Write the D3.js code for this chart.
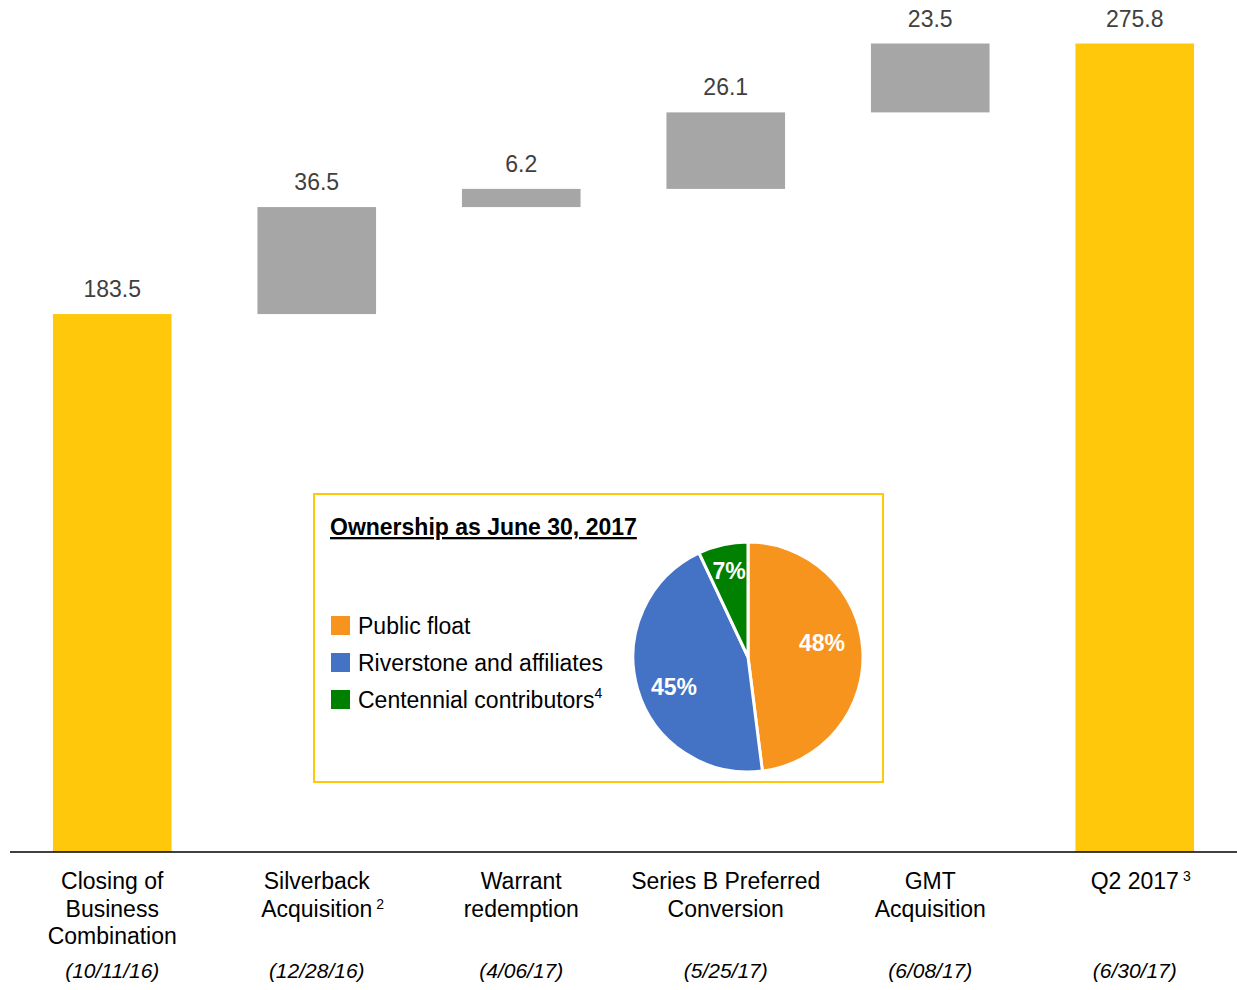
<!DOCTYPE html>
<html>
<head>
<meta charset="utf-8">
<script src="https://cdn.jsdelivr.net/npm/d3@7"></script>
<style>
  body { margin: 0; background: #fff; }
  svg { display: block; font-family: "Liberation Sans", Arial, sans-serif; }
</style>
</head>
<body>
<svg id="chart" width="1237" height="990"></svg>
<script>
// waterfall data
var categories = ["Closing of|Business|Combination", "Silverback|Acquisition", "Warrant|redemption",
  "Series B Preferred|Conversion", "GMT|Acquisition", "Q2 2017"];
var footnotes = ["", "2", "", "", "", "3"];
var dates = ["(10/11/16)", "(12/28/16)", "(4/06/17)", "(5/25/17)", "(6/08/17)", "(6/30/17)"];
var values = [183.5, 36.5, 6.2, 26.1, 23.5, 275.8];
var isTotal = [true, false, false, false, false, true];

// pie data
var pieLabels = ["Public float", "Riverstone and affiliates", "Centennial contributors"];
var pieValues = [48, 45, 7];
var pieColors = ["#F7941D", "#4472C4", "#008000"];

var svg = d3.select("#chart");
var baseY = 852;
var fs = 23;

var x = d3.scaleBand().domain(d3.range(categories.length)).range([10, 1237]).paddingInner(0.42).paddingOuter(0.21);
var y = d3.scaleLinear().domain([0, 275.8]).range([baseY, 43.5]);

// compute waterfall steps
var running = 0;
var bars = values.map(function(v, i) {
  var b;
  if (isTotal[i]) { b = {lo: 0, hi: v}; running = v; }
  else { b = {lo: running, hi: running + v}; running += v; }
  b.i = i; b.v = v;
  return b;
});

svg.selectAll("rect.bar").data(bars).enter().append("rect")
  .attr("class", "bar")
  .attr("x", function(d) { return x(d.i); })
  .attr("width", x.bandwidth())
  .attr("y", function(d) { return y(d.hi); })
  .attr("height", function(d) { return y(d.lo) - y(d.hi); })
  .attr("fill", function(d) { return isTotal[d.i] ? "#FFC80A" : "#A6A6A6"; });

svg.selectAll("text.val").data(bars).enter().append("text")
  .attr("class", "val")
  .attr("x", function(d) { return x(d.i) + x.bandwidth() / 2; })
  .attr("y", function(d) { return y(d.hi) - 17; })
  .attr("text-anchor", "middle")
  .attr("font-size", fs)
  .attr("fill", "#404040")
  .text(function(d) { return d.v.toFixed(1); });

// axis line
svg.append("line").attr("x1", 10).attr("x2", 1237).attr("y1", baseY).attr("y2", baseY)
  .attr("stroke", "#000").attr("stroke-width", 1.5);

// category labels
categories.forEach(function(c, i) {
  var cx = x(i) + x.bandwidth() / 2;
  var lines = c.split("|");
  var t = svg.append("text").attr("text-anchor", "middle").attr("font-size", fs).attr("fill", "#000");
  lines.forEach(function(l, j) {
    t.append("tspan").attr("x", cx).attr("y", 889 + j * 27.5).text(l);
  });
  if (footnotes[i]) {
    var last = t.selectAll("tspan").filter(function(d, k) { return k === lines.length - 1; });
    var w = last.node().getComputedTextLength();
    svg.append("text").attr("x", cx + w / 2 + 4).attr("y", 889 + (lines.length - 1) * 27.5 - 8)
      .attr("font-size", 14).text(footnotes[i]);
  }
  svg.append("text").attr("x", cx).attr("y", 978).attr("text-anchor", "middle")
    .attr("font-size", 21).attr("font-style", "italic").text(dates[i]);
});

// inset box
svg.append("rect").attr("x", 314).attr("y", 494).attr("width", 569).attr("height", 288)
  .attr("fill", "#fff").attr("stroke", "#FFC80A").attr("stroke-width", 2);

svg.append("text").attr("x", 330).attr("y", 535).attr("font-size", fs).attr("font-weight", "bold")
  .attr("text-decoration", "underline").text("Ownership as June 30, 2017");

pieLabels.forEach(function(l, i) {
  var ly = 626 + i * 37;
  svg.append("rect").attr("x", 331).attr("y", ly - 10).attr("width", 19).attr("height", 19).attr("fill", pieColors[i]);
  var t = svg.append("text").attr("x", 358).attr("y", ly + 8).attr("font-size", fs).text(l);
  if (i === 2) t.append("tspan").attr("font-size", 14).attr("dy", -10).text("4");
});

var pie = d3.pie().sort(null).value(function(d) { return d; });
var arc = d3.arc().innerRadius(0).outerRadius(115);
var g = svg.append("g").attr("transform", "translate(748,657)");
var arcs = pie(pieValues);
g.selectAll("path").data(arcs).enter().append("path")
  .attr("d", arc)
  .attr("fill", function(d, i) { return pieColors[i]; })
  .attr("stroke", "#fff").attr("stroke-width", 3);

var labelPos = [[74, -14], [-74, 30], [-19, -86]];
arcs.forEach(function(d, i) {
  g.append("text").attr("x", labelPos[i][0]).attr("y", labelPos[i][1]).attr("dy", "0.35em")
    .attr("text-anchor", "middle").attr("font-size", fs).attr("font-weight", "bold")
    .attr("fill", "#fff").text(pieValues[i] + "%");
});
</script>
</body>
</html>
